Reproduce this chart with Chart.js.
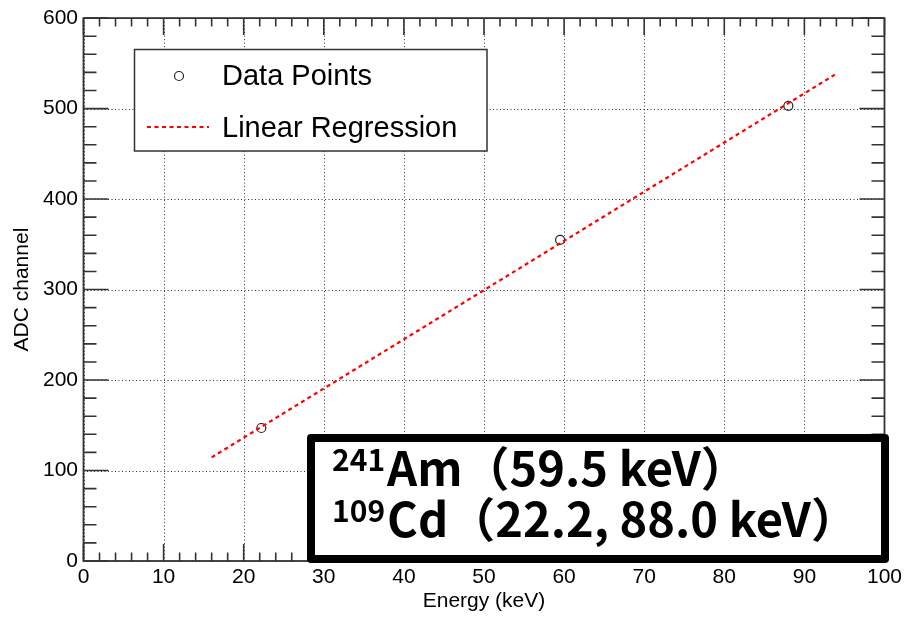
<!DOCTYPE html>
<html>
<head>
<meta charset="utf-8">
<script src="https://cdn.jsdelivr.net/npm/chart.js@4.4.0/dist/chart.umd.min.js"></script>
<style>
  body { margin: 0; background: #fff; }
  canvas { display: block; }
</style>
</head>
<body>
<canvas id="calibChart" width="906" height="618"></canvas>
<script>
// measured peaks
let energies = [22.2, 59.5, 88.0];
let channels = [147, 355, 503];
// fitted line, end points
let fitEnergies = [16, 93.8];
let fitChannels = [114.5, 537.5];

let xTicks = [0, 10, 20, 30, 40, 50, 60, 70, 80, 90, 100];
let yTicks = [0, 100, 200, 300, 400, 500, 600];

let sourceLines = [
    { sup: '241', main: 'Am（59.5 keV）' },
    { sup: '109', main: 'Cd（22.2, 88.0 keV）' }
];

const rootFont = '"Liberation Sans", Arial, Helvetica, sans-serif';
const frameColor = '#333';

function toPoints(xs, ys) {
    let pts = [];
    for (let i = 0; i < xs.length; i++) {
        pts.push({ x: xs[i], y: ys[i] });
    }
    return pts;
}

// ROOT style frame: dotted grid, ticks pointing inwards on all four sides
const rootFrame = {
    id: 'rootFrame',
    beforeDatasetsDraw(chart) {
        let ctx = chart.ctx;
        let a = chart.chartArea;
        let xs = chart.scales.x, ys = chart.scales.y;
        ctx.save();
        ctx.strokeStyle = '#333';
        ctx.lineWidth = 1;
        ctx.setLineDash([1, 2.5]);
        xTicks.forEach(function (v) {
            let px = Math.round(xs.getPixelForValue(v)) + 0.5;
            ctx.beginPath();
            ctx.moveTo(px, a.top);
            ctx.lineTo(px, a.bottom);
            ctx.stroke();
        });
        yTicks.forEach(function (v) {
            let py = Math.round(ys.getPixelForValue(v)) + 0.5;
            ctx.beginPath();
            ctx.moveTo(a.left, py);
            ctx.lineTo(a.right, py);
            ctx.stroke();
        });
        ctx.restore();
    },
    afterDatasetsDraw(chart) {
        let ctx = chart.ctx;
        let a = chart.chartArea;
        let xs = chart.scales.x, ys = chart.scales.y;
        ctx.save();
        ctx.strokeStyle = frameColor;
        ctx.lineWidth = 1.6;
        ctx.setLineDash([]);
        ctx.beginPath();
        for (let v = 0; v <= 100; v += 2) {
            let px = xs.getPixelForValue(v);
            let len = (v % 10 === 0) ? 17 : 8.5;
            ctx.moveTo(px, a.bottom); ctx.lineTo(px, a.bottom - len);
            ctx.moveTo(px, a.top); ctx.lineTo(px, a.top + len);
        }
        for (let v = 0; v <= 600; v += 20) {
            let py = ys.getPixelForValue(v);
            let len = (v % 100 === 0) ? 25 : 13;
            ctx.moveTo(a.left, py); ctx.lineTo(a.left + len, py);
            ctx.moveTo(a.right, py); ctx.lineTo(a.right - len, py);
        }
        ctx.stroke();
        ctx.lineWidth = 1.8;
        ctx.strokeRect(a.left, a.top, a.right - a.left, a.bottom - a.top);
        ctx.restore();
    },
    afterDraw(chart) {
        drawLegendBox(chart);
        drawSourceBox(chart);
    }
};

function drawLegendBox(chart) {
    let ctx = chart.ctx;
    let sets = chart.data.datasets;
    ctx.save();
    ctx.fillStyle = '#fff';
    ctx.strokeStyle = frameColor;
    ctx.lineWidth = 1.5;
    ctx.fillRect(134.5, 49.5, 352.5, 101.5);
    ctx.strokeRect(134.5, 49.5, 352.5, 101.5);

    ctx.font = '29px ' + rootFont;
    ctx.fillStyle = '#000';
    ctx.textBaseline = 'middle';
    ctx.textAlign = 'left';

    // marker entry
    ctx.beginPath();
    ctx.arc(179, 76, sets[1].pointRadius, 0, Math.PI * 2);
    ctx.lineWidth = sets[1].borderWidth;
    ctx.strokeStyle = sets[1].borderColor;
    ctx.stroke();
    ctx.fillText(sets[1].label, 222, 77);

    // line entry
    ctx.beginPath();
    ctx.setLineDash(sets[0].borderDash);
    ctx.lineWidth = sets[0].borderWidth;
    ctx.strokeStyle = sets[0].borderColor;
    ctx.moveTo(147, 127);
    ctx.lineTo(209, 127);
    ctx.stroke();
    ctx.setLineDash([]);
    ctx.fillText(sets[0].label, 222, 129);
    ctx.restore();
}

function drawSourceBox(chart) {
    let ctx = chart.ctx;
    ctx.save();
    ctx.fillStyle = '#fff';
    ctx.strokeStyle = '#000';
    ctx.lineWidth = 8;
    ctx.lineJoin = 'round';
    ctx.fillRect(311, 438, 574, 121);
    ctx.strokeRect(311, 438, 574, 121);

    ctx.fillStyle = '#000';
    ctx.textAlign = 'left';
    ctx.textBaseline = 'alphabetic';
    let baselines = [486, 537];
    sourceLines.forEach(function (line, i) {
        let x = 332;
        ctx.font = 'bold 30px "Noto Sans CJK JP"';
        ctx.fillText(line.sup, x, baselines[i] - 15);
        x += ctx.measureText(line.sup).width + 2;
        ctx.font = 'bold 47px "Noto Sans CJK JP"';
        ctx.fillText(line.main, x, baselines[i]);
    });
    ctx.restore();
}

let ctx = document.getElementById('calibChart').getContext('2d');
let calibChart = new Chart(ctx, {
    type: 'scatter',
    data: {
        datasets: [{
            label: 'Linear Regression',
            data: toPoints(fitEnergies, fitChannels),
            showLine: true,
            borderColor: '#ff0000',
            borderWidth: 2.2,
            borderDash: [4, 3.5],
            pointRadius: 0,
            fill: false,
            order: 0
        }, {
            label: 'Data Points',
            data: toPoints(energies, channels),
            pointStyle: 'circle',
            pointRadius: 4.5,
            borderColor: '#222',
            borderWidth: 1.2,
            backgroundColor: 'rgba(0,0,0,0)',
            showLine: false,
            order: 1
        }]
    },
    options: {
        responsive: false,
        animation: false,
        devicePixelRatio: 1,
        events: [],
        layout: { padding: { top: 16, right: 17.5, left: 0, bottom: 0 } },
        plugins: {
            legend: { display: false },
            tooltip: { enabled: false }
        },
        scales: {
            x: {
                type: 'linear',
                min: 0,
                max: 100,
                afterBuildTicks: function (scale) {
                    scale.ticks = xTicks.map(function (v) { return { value: v }; });
                },
                afterFit: function (scale) { scale.height = 57; },
                grid: { display: false, drawTicks: false },
                border: { display: false },
                ticks: {
                    color: '#000',
                    padding: 4,
                    maxRotation: 0,
                    font: { family: rootFont, size: 21 }
                },
                title: {
                    display: true,
                    text: 'Energy (keV)',
                    color: '#000',
                    padding: { top: 0, bottom: 4 },
                    font: { family: rootFont, size: 21 }
                }
            },
            y: {
                type: 'linear',
                min: 0,
                max: 600,
                afterBuildTicks: function (scale) {
                    scale.ticks = yTicks.map(function (v) { return { value: v }; });
                },
                afterFit: function (scale) { scale.width = 83.5; },
                grid: { display: false, drawTicks: false },
                border: { display: false },
                ticks: {
                    color: '#000',
                    padding: 5.5,
                    font: { family: rootFont, size: 21 }
                },
                title: {
                    display: true,
                    text: 'ADC channel',
                    color: '#000',
                    padding: { top: 10, bottom: 0 },
                    font: { family: rootFont, size: 21 }
                }
            }
        }
    },
    plugins: [rootFrame]
});
</script>
</body>
</html>
